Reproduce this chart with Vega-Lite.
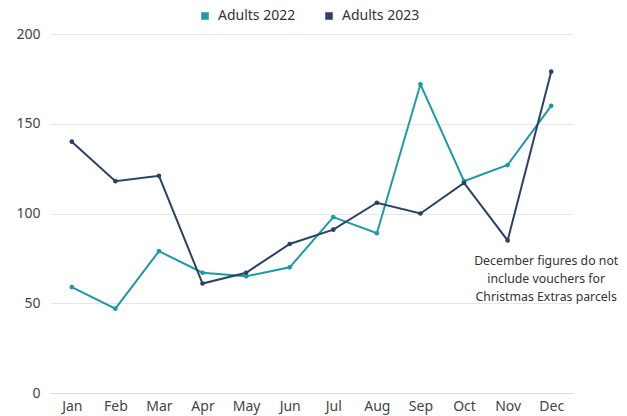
{
  "$schema": "https://vega.github.io/schema/vega-lite/v6.json",
  "width": 523,
  "height": 359,
  "autosize": {"type": "none"},
  "padding": {"left": 50, "top": 34, "right": 54, "bottom": 23},
  "background": "white",
  "config": {
    "font": "Noto Sans",
    "view": {"stroke": null},
    "axis": {"labelFont": "Noto Sans", "labelColor": "#444444", "labelFontSize": 14}
  },
  "datasets": {
    "main": [
      {"month": "Jan", "series": "Adults 2022", "value": 59},
      {"month": "Feb", "series": "Adults 2022", "value": 47},
      {"month": "Mar", "series": "Adults 2022", "value": 79},
      {"month": "Apr", "series": "Adults 2022", "value": 67},
      {"month": "May", "series": "Adults 2022", "value": 65},
      {"month": "Jun", "series": "Adults 2022", "value": 70},
      {"month": "Jul", "series": "Adults 2022", "value": 98},
      {"month": "Aug", "series": "Adults 2022", "value": 89},
      {"month": "Sep", "series": "Adults 2022", "value": 172},
      {"month": "Oct", "series": "Adults 2022", "value": 118},
      {"month": "Nov", "series": "Adults 2022", "value": 127},
      {"month": "Dec", "series": "Adults 2022", "value": 160},
      {"month": "Jan", "series": "Adults 2023", "value": 140},
      {"month": "Feb", "series": "Adults 2023", "value": 118},
      {"month": "Mar", "series": "Adults 2023", "value": 121},
      {"month": "Apr", "series": "Adults 2023", "value": 61},
      {"month": "May", "series": "Adults 2023", "value": 67},
      {"month": "Jun", "series": "Adults 2023", "value": 83},
      {"month": "Jul", "series": "Adults 2023", "value": 91},
      {"month": "Aug", "series": "Adults 2023", "value": 106},
      {"month": "Sep", "series": "Adults 2023", "value": 100},
      {"month": "Oct", "series": "Adults 2023", "value": 117},
      {"month": "Nov", "series": "Adults 2023", "value": 85},
      {"month": "Dec", "series": "Adults 2023", "value": 179}
    ],
    "note": [
      {"month": "Dec", "value": 73.5, "text": ["December figures do not", "include vouchers for", "Christmas Extras parcels"]}
    ]
  },
  "layer": [
    {
      "data": {"name": "main"},
      "mark": {"type": "line", "strokeWidth": 2, "point": {"filled": true, "size": 22}},
      "encoding": {
        "x": {
          "field": "month", "type": "ordinal",
          "sort": ["Jan","Feb","Mar","Apr","May","Jun","Jul","Aug","Sep","Oct","Nov","Dec"],
          "scale": {"type": "point", "padding": 0.5},
          "axis": {"title": null, "domain": true, "domainColor": "#d9d9d9", "ticks": false, "labelAngle": 0, "labelPadding": 6, "grid": false}
        },
        "y": {
          "field": "value", "type": "quantitative",
          "scale": {"domain": [0, 200]},
          "axis": {"title": null, "values": [0, 50, 100, 150, 200], "domain": false, "ticks": false, "gridColor": "#e6e6e6", "gridWidth": 1, "labelPadding": 10}
        },
        "color": {
          "field": "series", "type": "nominal",
          "scale": {"domain": ["Adults 2022", "Adults 2023"], "range": ["#1a9ba6", "#2c4264"]},
          "legend": {
            "title": null, "orient": "none", "direction": "horizontal",
            "legendX": 148, "legendY": -25,
            "symbolType": "square", "symbolSize": 36,
            "labelFontSize": 14, "labelColor": "#333333", "columnPadding": 26, "labelOffset": 6
          }
        }
      }
    },
    {
      "data": {"name": "note"},
      "mark": {"type": "text", "fontSize": 12.3, "color": "#333333", "align": "center", "baseline": "middle", "lineHeight": 18, "dx": -5},
      "encoding": {
        "x": {"field": "month", "type": "ordinal", "sort": ["Jan","Feb","Mar","Apr","May","Jun","Jul","Aug","Sep","Oct","Nov","Dec"]},
        "y": {"field": "value", "type": "quantitative"},
        "text": {"field": "text"}
      }
    }
  ]
}
